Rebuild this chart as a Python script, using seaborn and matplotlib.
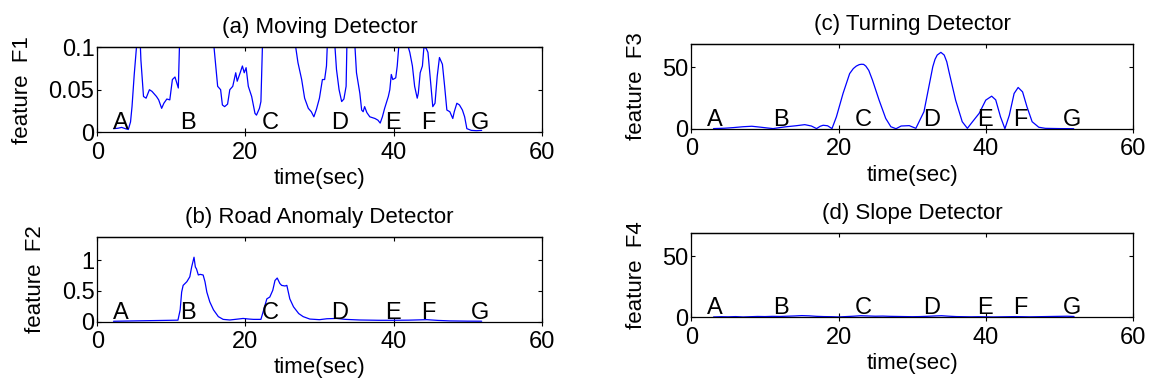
import matplotlib
matplotlib.use("Agg")
import pandas as pd
import matplotlib.pyplot as plt
import seaborn as sns
from matplotlib.ticker import FuncFormatter

# 0. Values
t_f1 = [2.2, 2.8, 3.3, 3.8, 4.2, 4.5, 4.7, 5.0, 5.3, 5.5, 5.7, 5.9, 6.25, 6.6, 7.05,
        7.4, 7.7, 8.0, 8.3, 8.7, 9.0, 9.4, 9.8, 10.15, 10.5, 10.95, 11.1, 11.3, 15.6,
        15.77, 16.04, 16.26, 16.66, 16.9, 17.2, 17.6, 17.9, 18.3, 18.7, 18.9, 19.3,
        19.6, 19.85, 20.1, 20.4, 20.85, 21.3, 21.5, 21.9, 22.1, 22.3, 22.5, 26.6, 26.8,
        27.1, 27.6, 28.0, 28.5, 28.9, 29.25, 29.6, 30.0, 30.4, 30.7, 30.95, 31.05, 31.2,
        31.9, 32.1, 32.3, 32.65, 33.0, 33.3, 33.6, 33.7, 33.85, 34.6, 34.8, 35.0, 35.45,
        35.7, 35.9, 36.1, 36.4, 36.8, 37.5, 37.9, 38.2, 38.5, 38.8, 39.3, 39.5, 39.7,
        39.9, 40.3, 40.5, 40.7, 40.9, 41.8, 42.0, 42.2, 42.55, 42.85, 43.2, 43.35, 43.6,
        43.9, 44.1, 44.4, 44.65, 44.97, 45.3, 45.6, 45.9, 46.2, 46.6, 46.9, 47.2, 47.6,
        47.8, 48.0, 48.2, 48.55, 48.9, 49.3, 49.6, 49.9, 50.5, 51.2, 51.9]
f1 = [0.004, 0.0045, 0.0055, 0.004, 0.003, 0.012, 0.030, 0.068, 0.100, 0.130, 0.130,
      0.085, 0.042, 0.040, 0.050, 0.048, 0.045, 0.042, 0.038, 0.028, 0.034, 0.039,
      0.038, 0.062, 0.065, 0.052, 0.100, 0.150, 0.150, 0.100, 0.074, 0.054, 0.050,
      0.032, 0.030, 0.033, 0.050, 0.054, 0.070, 0.060, 0.070, 0.078, 0.070, 0.076,
      0.054, 0.042, 0.022, 0.020, 0.028, 0.036, 0.100, 0.150, 0.150, 0.100, 0.082,
      0.062, 0.040, 0.028, 0.024, 0.018, 0.027, 0.040, 0.062, 0.062, 0.078, 0.100,
      0.150, 0.150, 0.100, 0.074, 0.050, 0.036, 0.039, 0.054, 0.100, 0.150, 0.150,
      0.100, 0.070, 0.046, 0.026, 0.024, 0.030, 0.023, 0.018, 0.016, 0.014, 0.0106,
      0.018, 0.028, 0.042, 0.050, 0.068, 0.062, 0.064, 0.078, 0.100, 0.150, 0.150,
      0.100, 0.094, 0.078, 0.054, 0.040, 0.046, 0.070, 0.078, 0.100, 0.099, 0.094,
      0.062, 0.030, 0.034, 0.066, 0.088, 0.080, 0.054, 0.026, 0.024, 0.020, 0.016,
      0.024, 0.034, 0.032, 0.026, 0.018, 0.004, 0.002, 0.0016, 0.002]

t_f2 = [2.2, 4.0, 6.0, 8.0, 10.0, 10.9, 11.2, 11.4, 11.6, 12.1, 12.5, 12.75, 13.07,
        13.25, 13.4, 13.65, 13.9, 14.3, 14.55, 14.8, 15.2, 15.7, 16.35, 17.0, 17.9,
        19.0, 19.7, 20.5, 21.1, 22.1, 22.4, 22.9, 23.3, 23.7, 24.0, 24.3, 24.66, 24.9,
        25.35, 25.6, 26.0, 26.5, 27.2, 27.8, 28.7, 30.0, 31.0, 32.3, 33.5, 35.4, 38.0,
        40.0, 42.0, 44.5, 46.0, 47.6, 50.0, 51.9]
f2 = [0.004, 0.008, 0.012, 0.016, 0.020, 0.022, 0.19, 0.48, 0.59, 0.65, 0.73, 0.89,
      1.05, 0.89, 0.86, 0.76, 0.77, 0.76, 0.65, 0.48, 0.32, 0.19, 0.08, 0.035, 0.025,
      0.04, 0.05, 0.04, 0.035, 0.035, 0.16, 0.37, 0.40, 0.51, 0.67, 0.71, 0.62, 0.59,
      0.58, 0.59, 0.37, 0.24, 0.13, 0.08, 0.04, 0.03, 0.045, 0.05, 0.035, 0.025, 0.02,
      0.02, 0.022, 0.03, 0.018, 0.01, 0.006, 0.005]

t_f3 = [3.0, 4.5, 5.7, 7.0, 8.2, 9.3, 10.3, 11.1, 12.0, 12.9, 14.2, 15.4, 16.3, 17.0,
        17.5, 17.9, 18.5, 19.1, 19.7, 20.6, 21.5, 22.0, 22.4, 22.8, 23.1, 23.4, 23.7,
        24.1, 24.6, 25.5, 26.4, 27.1, 27.8, 28.5, 29.6, 30.5, 31.6, 32.8, 33.1, 33.4,
        33.9, 34.35, 34.7, 35.0, 35.9, 36.8, 37.5, 38.2, 39.1, 40.0, 40.8, 41.35, 42.0,
        42.6, 43.2, 43.85, 44.4, 45.0, 45.6, 46.3, 47.2, 48.1, 50.0, 51.95]
f3 = [0.1, 0.4, 0.9, 1.6, 2.0, 1.3, 0.6, 0.1, 0.9, 1.6, 2.4, 3.3, 2.2, 0.1, 2.0, 2.8,
      2.4, 0.1, 9.7, 28.7, 44.9, 49.0, 51.0, 52.2, 52.5, 52.4, 51.0, 47.5, 39.6, 23.3,
      8.4, 1.6, 0.0, 2.2, 2.5, 0.3, 13.9, 50.5, 56.5, 60.0, 62.2, 60.0, 54.5, 46.4,
      23.3, 5.7, 0.3, 5.7, 12.5, 23.3, 26.5, 23.5, 9.7, 0.0, 11.0, 28.7, 33.6, 30.0,
      17.8, 5.7, 1.2, 0.3, 0.1, 0.0]

t_f4 = [3, 4, 5, 6, 7, 8, 9, 10, 11, 12, 13, 14, 15, 16, 17, 18, 19, 20, 21, 22, 23,
        24, 25, 26, 27, 28, 29, 30, 31, 32, 33, 34, 35, 36, 37, 38, 39, 40, 41, 42, 43,
        44, 45, 46, 47, 48, 49, 50, 51, 52]
f4 = [0.3, 0.5, 0.4, 0.6, 0.3, 0.5, 0.7, 0.6, 0.8, 0.7, 0.9, 1.1, 1.4, 1.2, 0.8, 0.6,
      0.5, 0.3, 0.6, 0.9, 1.3, 1.1, 0.9, 1.0, 0.8, 0.7, 0.6, 0.5, 0.6, 0.8, 1.1, 1.3,
      0.9, 0.6, 0.5, 0.4, 0.5, 0.4, 0.3, 0.4, 0.5, 0.6, 0.5, 0.4, 0.5, 0.6, 0.7, 0.8,
      0.9, 0.7]

letters = ["A", "B", "C", "D", "E", "F", "G"]
letter_t = [3.2, 12.2, 23.3, 32.7, 39.9, 44.7, 51.7]

titles = ["(a) Moving Detector", "(b) Road Anomaly Detector",
          "(c) Turning Detector", "(d) Slope Detector"]
ylabels = ["feature  F1", "feature  F2", "feature  F3", "feature  F4"]

# 1. Style (MATLAB-like: black text, boxed axes, inward ticks)
sns.set_theme(style="white")
plt.rcParams["font.family"] = ["Liberation Sans", "DejaVu Sans"]
for key in ["text.color", "axes.labelcolor", "xtick.color", "ytick.color",
            "axes.edgecolor"]:
    plt.rcParams[key] = "black"
plt.rcParams["axes.linewidth"] = 0.9
FS = 16
TFS = 17

fig = plt.figure(figsize=(11.53, 3.85), dpi=100)

panels = [
    ([0.0843, 0.6570, 0.3855, 0.2200], t_f1, f1, 0.1, [0, 0.05, 0.1]),
    ([0.0843, 0.1649, 0.3855, 0.2195], t_f2, f2, 1.38, [0, 0.5, 1]),
    ([0.5997, 0.6657, 0.3829, 0.2200], t_f3, f3, 69, [0, 50]),
    ([0.5997, 0.1758, 0.3829, 0.2197], t_f4, f4, 69, [0, 50]),
]

# 2. Draw each detector panel
for i, (rect, t, y, ytop, yticks) in enumerate(panels):
    ax = fig.add_axes(rect)
    df = pd.DataFrame({"t": t, "v": y})
    sns.lineplot(data=df, x="t", y="v", ax=ax, color="#0000ff",
                 linewidth=0.9, estimator=None)
    ax.set_xlim(0, 60)
    ax.set_ylim(0, ytop)
    ax.set_xticks([0, 20, 40, 60])
    ax.set_yticks(yticks)
    ax.yaxis.set_major_formatter(FuncFormatter(lambda v, p: f"{v:g}"))
    ax.tick_params(axis="y", direction="in", length=3, width=0.8,
                   left=True, right=True, labelsize=TFS, pad=2)
    ax.tick_params(axis="x", direction="inout", length=6, width=0.8,
                   bottom=True, top=False, labelsize=TFS, pad=4)
    top = ax.secondary_xaxis("top")
    top.set_xticks([0, 20, 40, 60])
    top.tick_params(direction="in", length=3, width=0.8, top=True, labeltop=False)
    ax.set_xlabel("time(sec)", fontsize=FS, labelpad=3)
    ax.set_ylabel(ylabels[i], fontsize=FS, labelpad=11)
    ax.set_title(titles[i], fontsize=FS, pad=10)
    for lab, lt in zip(letters, letter_t):
        ax.text(lt, 0.035, lab, transform=ax.get_xaxis_transform(),
                ha="center", va="baseline", fontsize=TFS)

fig.savefig("out.png", dpi=100)
